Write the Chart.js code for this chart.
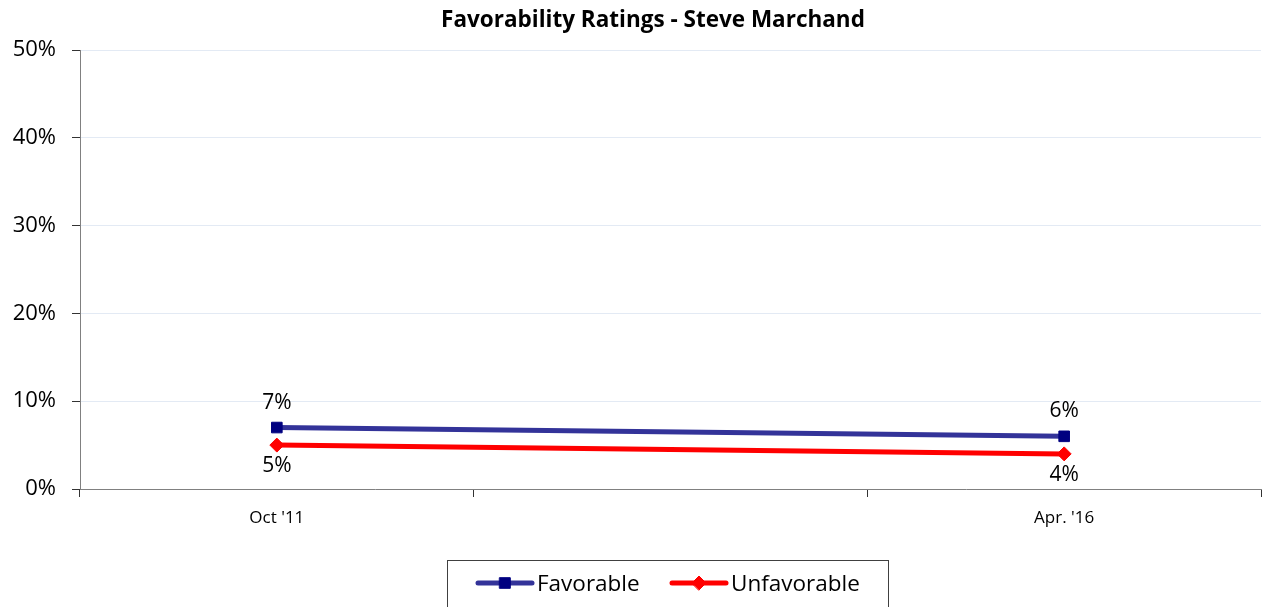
<!DOCTYPE html>
<html lang="en">
<head>
    <meta charset="UTF-8">
    <title>Favorability Ratings - Steve Marchand</title>
    <script src="https://cdn.jsdelivr.net/npm/chart.js"></script>
    <style>
        html, body { margin: 0; padding: 0; background: #fff; overflow: hidden; }
        #wrap { width: 1262px; height: 607px; position: relative; }
    </style>
</head>
<body>
    <div id="wrap">
        <canvas id="favChart"></canvas>
    </div>

    <script>
        // data
        const categories = ["Oct '11", "", "Apr. '16"];
        const favorable = [7, null, 6];
        const unfavorable = [5, null, 4];
        const yMin = 0;
        const yMax = 50;
        const yStep = 10;

        const FONT = '"Open Sans", Lato, sans-serif';
        const favColor = '#333399';
        const favPoint = '#000080';
        const unfColor = '#ff0000';

        // title + percent labels + boxed legend
        const extras = {
            id: 'extras',
            afterDatasetsDraw(chart) {
                const ctx = chart.ctx;
                ctx.save();
                ctx.fillStyle = '#000';
                ctx.font = '21px ' + FONT;
                ctx.textAlign = 'center';
                ctx.textBaseline = 'middle';
                chart.data.datasets.forEach((ds, i) => {
                    const meta = chart.getDatasetMeta(i);
                    meta.data.forEach((pt, j) => {
                        const v = ds.data[j];
                        if (v === null) return;
                        const dy = i === 0 ? -25 : 21;
                        ctx.fillText(v + '%', pt.x, pt.y + dy);
                    });
                });
                ctx.restore();
            },
            afterDraw(chart) {
                const ctx = chart.ctx;
                ctx.save();
                // title
                ctx.fillStyle = '#000';
                ctx.font = 'bold 22.5px ' + FONT;
                ctx.textAlign = 'center';
                ctx.textBaseline = 'middle';
                ctx.fillText('Favorability Ratings - Steve Marchand', 653, 21);

                // legend box
                ctx.strokeStyle = '#404040';
                ctx.lineWidth = 1;
                ctx.strokeRect(447.5, 560.5, 441, 60);

                const items = [
                    { x: 478, ds: chart.data.datasets[0] },
                    { x: 672, ds: chart.data.datasets[1] }
                ];
                const ly = 583;
                items.forEach(it => {
                    ctx.strokeStyle = it.ds.borderColor;
                    ctx.lineWidth = 5;
                    ctx.lineCap = 'round';
                    ctx.beginPath();
                    ctx.moveTo(it.x, ly);
                    ctx.lineTo(it.x + 54, ly);
                    ctx.stroke();
                    ctx.fillStyle = it.ds.pointBackgroundColor;
                    ctx.strokeStyle = it.ds.pointBorderColor;
                    ctx.lineWidth = 1;
                    ctx.beginPath();
                    if (it.ds.pointStyle === 'rect') {
                        const s = Math.SQRT1_2 * it.ds.pointRadius;
                        ctx.rect(it.x + 27 - s, ly - s, 2 * s, 2 * s);
                    } else {
                        const r = it.ds.pointRadius;
                        ctx.moveTo(it.x + 27 - r, ly);
                        ctx.lineTo(it.x + 27, ly - r);
                        ctx.lineTo(it.x + 27 + r, ly);
                        ctx.lineTo(it.x + 27, ly + r);
                        ctx.closePath();
                    }
                    ctx.fill();
                    ctx.stroke();
                    ctx.fillStyle = '#000';
                    ctx.font = '22.5px ' + FONT;
                    ctx.textAlign = 'left';
                    ctx.textBaseline = 'middle';
                    ctx.fillText(it.ds.label, it.x + 59, ly + 2);
                });
                ctx.restore();
            }
        };

        const ctx = document.getElementById('favChart').getContext('2d');
        const favChart = new Chart(ctx, {
            type: 'line',
            data: {
                labels: categories,
                datasets: [{
                    label: 'Favorable',
                    data: favorable,
                    borderColor: favColor,
                    backgroundColor: favPoint,
                    borderWidth: 5,
                    pointStyle: 'rect',
                    pointRadius: 7.5,
                    pointBackgroundColor: favPoint,
                    pointBorderColor: favPoint,
                    pointBorderWidth: 1,
                    tension: 0,
                    spanGaps: true
                }, {
                    label: 'Unfavorable',
                    data: unfavorable,
                    borderColor: unfColor,
                    backgroundColor: unfColor,
                    borderWidth: 5,
                    pointStyle: 'rectRot',
                    pointRadius: 7,
                    pointBackgroundColor: unfColor,
                    pointBorderColor: unfColor,
                    pointBorderWidth: 1,
                    tension: 0,
                    spanGaps: true
                }]
            },
            options: {
                responsive: true,
                maintainAspectRatio: false,
                animation: false,
                layout: {
                    autoPadding: false,
                    padding: { top: 50, right: 1, bottom: 47, left: 0 }
                },
                plugins: {
                    legend: { display: false },
                    title: { display: false },
                    tooltip: { enabled: false }
                },
                scales: {
                    x: {
                        type: 'category',
                        offset: true,
                        afterFit(scale) { scale.height = 71; },
                        grid: {
                            offset: true,
                            drawOnChartArea: false,
                            tickLength: 8,
                            tickColor: '#333'
                        },
                        border: { color: '#808080', width: 1 },
                        ticks: {
                            color: '#000',
                            font: { family: FONT, size: 17 },
                            padding: 11,
                            maxRotation: 0,
                            autoSkip: false
                        }
                    },
                    y: {
                        min: yMin,
                        max: yMax,
                        afterFit(scale) { scale.width = 80; },
                        grid: {
                            color: '#e3eaf4',
                            tickColor: '#333',
                            tickLength: 8
                        },
                        border: { color: '#808080', width: 1 },
                        ticks: {
                            stepSize: yStep,
                            color: '#000',
                            font: { family: FONT, size: 22 },
                            padding: 16,
                            callback: v => v + '%'
                        }
                    }
                }
            },
            plugins: [extras]
        });
    </script>
</body>
</html>
